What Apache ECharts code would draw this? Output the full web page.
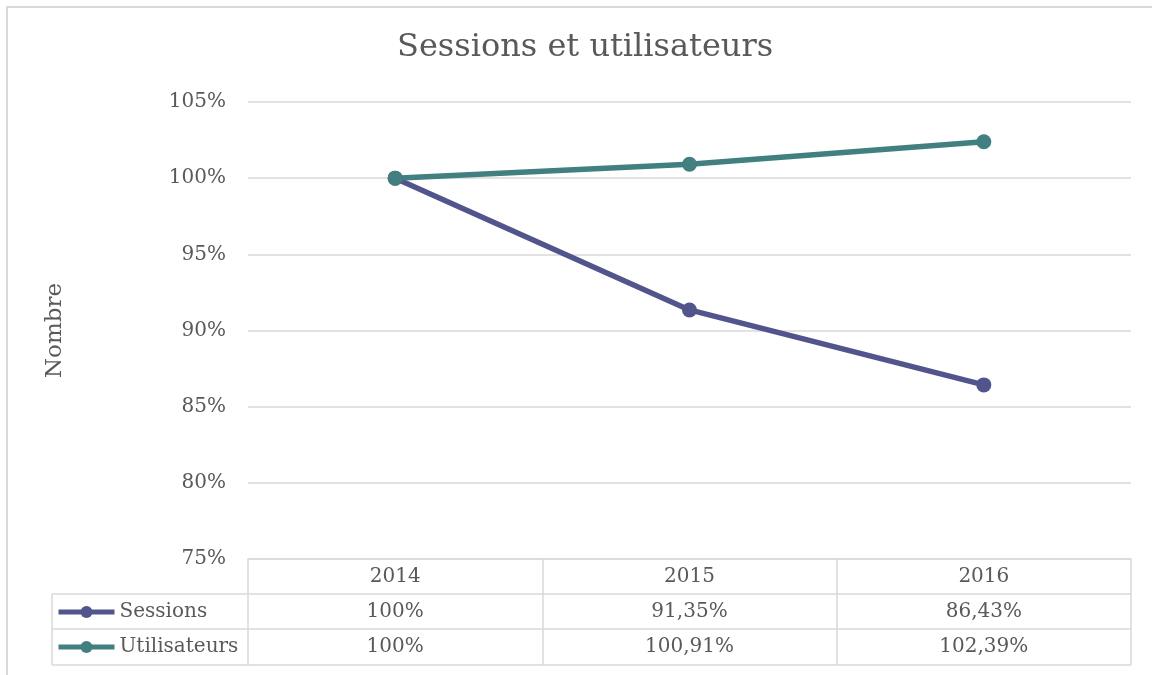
<!DOCTYPE html>
<html>
<head>
<meta charset="utf-8">
<script src="https://cdn.jsdelivr.net/npm/echarts@6/dist/echarts.min.js"></script>
<style>
  html, body { margin: 0; padding: 0; background: #fff; }
  #chart { width: 1152px; height: 675px; }
</style>
</head>
<body>
<div id="chart"></div>
<script>
// données
const years = ["2014", "2015", "2016"];
const sessions = [100, 91.35, 86.43];
const utilisateurs = [100, 100.91, 102.39];
const seriesNames = ["Sessions", "Utilisateurs"];
const colors = ["#52548c", "#417f80"];

const FONT = "DejaVu Serif";
const TXT = "#595959";
const BORDER = "#d9d9d9";
const ROW_H = 35;
const FS = 20;

const fmt = (v) =>
  Number.isInteger(v) ? v + "%" : v.toFixed(2).replace(".", ",") + "%";

const chart = echarts.init(document.getElementById("chart"));

const option = {
  animation: false,
  color: colors,
  title: {
    text: "Sessions et utilisateurs",
    left: 392,
    top: 27,
    textStyle: { fontFamily: FONT, fontSize: 32, fontWeight: "normal", color: TXT },
  },
  // une légende par ligne du tableau
  legend: seriesNames.map((name, i) => ({
    data: [name],
    left: 56,
    top: 601 + i * ROW_H,
    padding: 0,
    itemWidth: 56,
    itemHeight: 15,
    itemGap: 3,
    lineStyle: { width: 5 },
    textStyle: { fontFamily: FONT, fontSize: FS, color: TXT, lineHeight: 22 },
  })),
  grid: { left: 248, right: 21, top: 102, bottom: 116, containLabel: false },
  xAxis: {
    type: "category",
    data: years,
    boundaryGap: true,
    axisLine: { show: true, lineStyle: { color: BORDER, width: 1.5 } },
    axisTick: {
      show: true,
      inside: false,
      length: ROW_H * 3 + 1,
      lineStyle: { color: BORDER, width: 1.5 },
    },
    axisLabel: { fontFamily: FONT, fontSize: FS, color: TXT, margin: 8 },
  },
  yAxis: {
    type: "value",
    min: 75,
    max: 105,
    interval: 5,
    name: "Nombre",
    nameLocation: "middle",
    nameGap: 181,
    nameRotate: 90,
    nameTextStyle: { fontFamily: FONT, fontSize: 23, color: TXT },
    axisLine: { show: false },
    axisTick: { show: false },
    axisLabel: {
      formatter: "{value}%",
      fontFamily: FONT,
      fontSize: FS,
      color: TXT,
      margin: 22,
    },
    splitLine: { lineStyle: { color: BORDER, width: 1.5 } },
  },
  series: [
    {
      name: seriesNames[0],
      type: "line",
      data: sessions,
      symbol: "circle",
      symbolSize: 15,
      lineStyle: { width: 5.5 },
      itemStyle: { color: colors[0] },
    },
    {
      name: seriesNames[1],
      type: "line",
      data: utilisateurs,
      symbol: "circle",
      symbolSize: 15,
      lineStyle: { width: 5.5 },
      itemStyle: { color: colors[1] },
    },
  ],
};
chart.setOption(option);

/** tableau de données sous le graphique */
const drawTable = () => {
  const baseY = chart.convertToPixel({ yAxisIndex: 0 }, 75);
  const x0 = chart.convertToPixel({ xAxisIndex: 0 }, 0);
  const x2 = chart.convertToPixel({ xAxisIndex: 0 }, years.length - 1);
  const step = (x2 - x0) / (years.length - 1);
  const right = x2 + step / 2;
  const tableLeft = 52;
  const els = [];

  // cadre extérieur
  els.push({
    type: "rect",
    shape: { x: 7, y: 7, width: 1200, height: 720 },
    style: { fill: null, stroke: BORDER, lineWidth: 2 },
    silent: true,
  });

  // lignes horizontales
  for (let r = 1; r <= 3; r++) {
    const y = baseY + r * ROW_H + (r === 3 ? 1 : 0);
    els.push({
      type: "line",
      shape: { x1: tableLeft, y1: y, x2: right, y2: y },
      style: { stroke: BORDER, lineWidth: 1.5 },
      silent: true,
    });
  }
  els.push({
    type: "line",
    shape: { x1: tableLeft, y1: baseY + ROW_H, x2: tableLeft, y2: baseY + ROW_H * 3 + 1 },
    style: { stroke: BORDER, lineWidth: 1.5 },
    silent: true,
  });

  // valeurs
  [sessions, utilisateurs].forEach((values, r) => {
    values.forEach((v, i) => {
      els.push({
        type: "text",
        x: chart.convertToPixel({ xAxisIndex: 0 }, i),
        y: baseY + ROW_H * (r + 1) + ROW_H / 2,
        style: {
          text: fmt(v),
          fontFamily: FONT,
          fontSize: FS,
          fill: TXT,
          align: "center",
          verticalAlign: "middle",
        },
        silent: true,
      });
    });
  });

  chart.setOption({ graphic: els });
};
drawTable();
</script>
</body>
</html>
